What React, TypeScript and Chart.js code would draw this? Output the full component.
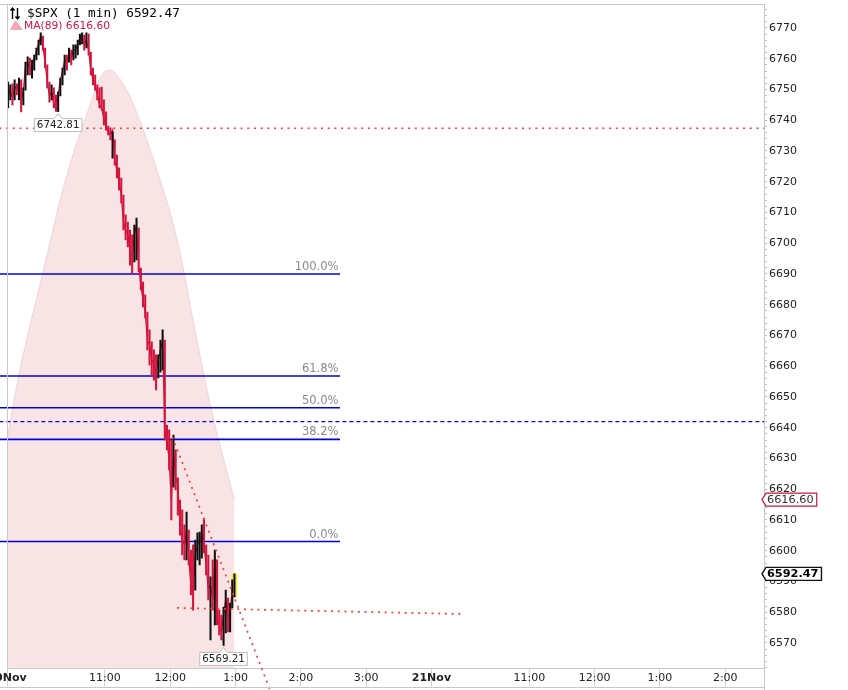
import React, { useEffect, useRef } from 'react';
import { Chart, registerables } from 'chart.js';

Chart.register(...registerables);

// ---------- data ----------
const symbolName = '$SPX';
const intervalLabel = '1 min';
const maPeriod = 89;

// 2-minute groups of the 1-minute bars, 20 Nov from 9:30
const barHigh = [
  6752.4, 6751.5, 6751.8, 6753.1, 6751.8, 6753.7, 6753.1, 6750.5, 6758.9, 6760.6,
  6760.2, 6759.6, 6761.2, 6763.5, 6766.1, 6768.4, 6767.4, 6763.5, 6758.0, 6752.4,
  6751.5, 6750.5, 6748.2, 6749.2, 6753.7, 6757.0, 6761.2, 6761.2, 6763.5, 6762.8,
  6764.5, 6764.5, 6766.1, 6768.0, 6768.4, 6767.7, 6768.4, 6768.0, 6762.2, 6757.0,
  6754.7, 6751.5, 6750.5, 6750.8, 6746.6, 6742.7, 6738.1, 6737.5, 6736.2, 6733.6,
  6728.7, 6724.5, 6721.2, 6715.7, 6709.2, 6706.9, 6704.3, 6702.7, 6705.9, 6708.2,
  6704.9, 6691.9, 6687.4, 6683.2, 6677.6, 6671.8, 6667.9, 6665.3, 6663.7, 6663.7,
  6668.5, 6671.8, 6668.5, 6640.9, 6639.3, 6636.0, 6637.6, 6632.8, 6623.7, 6616.5,
  6613.3, 6608.4, 6612.6, 6606.7, 6600.2, 6601.9, 6603.5, 6605.8, 6606.1, 6608.4,
  6610.6, 6601.9, 6598.6, 6591.5, 6597.0, 6600.2, 6597.0, 6580.7, 6579.1, 6581.7,
  6587.2, 6584.6, 6583.0, 6590.5, 6592.47,
];
const barLow = [
  6744.0, 6746.6, 6745.0, 6746.6, 6748.2, 6746.6, 6742.7, 6745.0, 6749.8, 6754.7,
  6754.7, 6753.7, 6756.3, 6759.6, 6761.2, 6764.5, 6762.8, 6757.0, 6750.5, 6745.9,
  6746.6, 6744.0, 6742.9, 6742.81, 6747.9, 6751.5, 6754.7, 6756.3, 6758.9, 6758.0,
  6759.6, 6760.2, 6761.2, 6764.5, 6764.8, 6762.8, 6763.5, 6761.2, 6754.7, 6751.5,
  6749.8, 6746.6, 6744.0, 6743.3, 6738.5, 6736.8, 6735.2, 6733.6, 6727.7, 6725.4,
  6721.2, 6717.3, 6713.1, 6704.3, 6701.1, 6698.8, 6692.9, 6690.3, 6693.9, 6694.6,
  6690.7, 6684.8, 6679.3, 6675.7, 6665.3, 6660.4, 6657.2, 6655.5, 6652.3, 6656.2,
  6658.1, 6658.8, 6636.0, 6632.8, 6626.3, 6610.0, 6620.7, 6619.8, 6611.6, 6605.1,
  6598.6, 6597.0, 6597.0, 6595.4, 6585.6, 6580.7, 6587.2, 6597.0, 6595.4, 6597.6,
  6599.3, 6592.1, 6584.0, 6571.0, 6580.7, 6575.9, 6575.9, 6572.6, 6571.0, 6569.21,
  6573.3, 6573.6, 6573.6, 6581.4, 6585.0,
];
const barClose = [
  6748.2, 6749.8, 6747.2, 6751.1, 6749.8, 6752.4, 6746.6, 6749.2, 6758.0, 6758.9,
  6756.3, 6758.0, 6760.2, 6762.2, 6764.8, 6767.4, 6764.1, 6758.9, 6752.4, 6747.9,
  6749.2, 6745.3, 6744.0, 6747.9, 6753.1, 6755.7, 6759.6, 6758.9, 6762.2, 6760.2,
  6762.8, 6762.8, 6764.8, 6766.7, 6767.4, 6764.5, 6766.1, 6762.8, 6756.3, 6753.1,
  6751.5, 6748.2, 6745.3, 6744.0, 6740.7, 6737.5, 6736.2, 6735.2, 6736.8, 6727.1,
  6723.8, 6719.9, 6715.7, 6706.9, 6704.3, 6702.7, 6697.8, 6696.2, 6702.7, 6705.9,
  6692.9, 6686.4, 6681.5, 6677.6, 6668.5, 6666.9, 6662.0, 6660.4, 6658.1, 6662.0,
  6665.3, 6668.5, 6639.3, 6636.0, 6629.5, 6616.5, 6632.8, 6623.7, 6621.4, 6608.4,
  6603.5, 6601.9, 6606.7, 6597.6, 6588.9, 6587.2, 6598.6, 6601.9, 6603.5, 6605.1,
  6601.9, 6595.4, 6587.2, 6588.9, 6584.0, 6597.0, 6579.1, 6575.9, 6573.6, 6579.1,
  6584.0, 6577.5, 6580.1, 6587.2, 6592.47,
];
// bar time = middle of each 2-minute group, in minutes after the open
const barMinute = barClose.map((_, i) => 2 * i + 1);

// MA(89) read at these minutes
const maMinute = [0, 10, 20, 30, 40, 50, 60, 70, 80, 88, 95, 100, 110, 120, 130, 140, 150, 160, 170, 180, 190, 200, 209];
const maValue = [
  6636.0, 6655.5, 6671.5, 6686.0, 6701.0, 6715.5, 6728.0, 6738.5, 6748.5, 6755.2,
  6756.3, 6755.0, 6749.8, 6741.7, 6732.0, 6721.2, 6709.8, 6695.2, 6676.7, 6658.8,
  6642.5, 6628.5, 6616.6,
];

// Fibonacci retracement
const fibLevels = [6690.0, 6656.8, 6646.5, 6636.2, 6603.0];
const fibLabels = ['100.0%', '61.8%', '50.0%', '38.2%', '0.0%'];
const fibStartMinute = -7;
const fibEndMinute = 306;

// horizontal reference lines
const redLevel = 6737.4;
const blueLevel = 6642.0;

// dotted trend lines
const trendAMinutes = [152, 241.7];
const trendAValues = [6637.0, 6554.7];
const trendBMinutes = [156.2, 420.8];
const trendBValues = [6581.4, 6579.4];

// lows that carry a price callout (bar index)
const calloutBars = [23, 99];

// axes
const xTickMinutes = [0, 90, 150, 210, 270, 330, 390, 480, 540, 600, 660];
const xTickLabels = ['20Nov', '11:00', '12:00', '1:00', '2:00', '3:00', '21Nov', '11:00', '12:00', '1:00', '2:00'];
const xMin = 0;
const xMax = 695.6;
const yMin = 6561.7;
const yMax = 6777.8;
const yStep = 2;
const yLabelStep = 10;
const yExtraTick = 6780;

// ---------- styles ----------
const CRIMSON = '#d4143c';
const BLACK = '#111111';
const FRAME = '#c8c8c8';
const FONT = '"DejaVu Sans", sans-serif';

function fmt(v: number) {
  return v.toFixed(2);
}

const overlayPlugin = {
  id: 'overlay',
  afterDraw(chart: any) {
    const ctx = chart.ctx as CanvasRenderingContext2D;
    const ca = chart.chartArea;
    const xs = chart.scales.x;
    const ys = chart.scales.y;
    ctx.save();

    // frame
    ctx.strokeStyle = FRAME;
    ctx.lineWidth = 1;
    ctx.beginPath();
    ctx.moveTo(0, Math.round(ca.top) + 0.5);
    ctx.lineTo(ca.right, Math.round(ca.top) + 0.5);
    ctx.moveTo(Math.round(ca.left) + 0.5, ca.top);
    ctx.lineTo(Math.round(ca.left) + 0.5, ca.bottom);
    const bandBottom = Math.round(ca.bottom + 18.5) + 0.5;
    ctx.moveTo(0, bandBottom);
    ctx.lineTo(ca.right, bandBottom);
    ctx.moveTo(Math.round(ca.right) + 0.5, ca.bottom);
    ctx.lineTo(Math.round(ca.right) + 0.5, chart.height);
    ctx.stroke();

    // fib labels
    ctx.font = '11.5px ' + FONT;
    ctx.fillStyle = '#8a8a8a';
    ctx.textAlign = 'right';
    ctx.textBaseline = 'alphabetic';
    const fx = xs.getPixelForValue(fibEndMinute) - 1.5;
    fibLevels.forEach((lv, i) => {
      ctx.fillText(fibLabels[i], fx, ys.getPixelForValue(lv) - 4);
    });

    // low callouts
    calloutBars.forEach((bi) => {
      const cx = xs.getPixelForValue(barMinute[bi]);
      const yl = ys.getPixelForValue(barLow[bi]);
      const text = fmt(barLow[bi]);
      ctx.font = '10.3px ' + FONT;
      const w = ctx.measureText(text).width + 5;
      const h = 13;
      const top = yl + 7;
      const left = cx - w / 2;
      ctx.beginPath();
      ctx.moveTo(left, top);
      ctx.lineTo(cx - 4, top);
      ctx.lineTo(cx, top - 5);
      ctx.lineTo(cx + 4, top);
      ctx.lineTo(left + w, top);
      ctx.lineTo(left + w, top + h);
      ctx.lineTo(left, top + h);
      ctx.closePath();
      ctx.fillStyle = '#ffffff';
      ctx.fill();
      ctx.strokeStyle = '#bcbcbc';
      ctx.lineWidth = 1;
      ctx.stroke();
      ctx.fillStyle = '#222';
      ctx.textAlign = 'center';
      ctx.textBaseline = 'middle';
      ctx.fillText(text, cx, top + h / 2 + 0.5);
    });

    // right axis value boxes
    const valueBox = (value: number, bold: boolean, stroke: string, color: string) => {
      const yc = ys.getPixelForValue(value);
      const xl = ca.right - 2;
      ctx.font = (bold ? 'bold ' : '') + '11.3px ' + FONT;
      const text = fmt(value);
      const tw = ctx.measureText(text).width;
      const w = tw + 8;
      const h = 13;
      ctx.beginPath();
      ctx.moveTo(xl, yc);
      ctx.lineTo(xl + 4, yc - h / 2);
      ctx.lineTo(xl + w, yc - h / 2);
      ctx.lineTo(xl + w, yc + h / 2);
      ctx.lineTo(xl + 4, yc + h / 2);
      ctx.closePath();
      ctx.fillStyle = '#ffffff';
      ctx.fill();
      ctx.strokeStyle = stroke;
      ctx.lineWidth = bold ? 1.4 : 1.2;
      ctx.stroke();
      ctx.fillStyle = color;
      ctx.textAlign = 'left';
      ctx.textBaseline = 'middle';
      ctx.fillText(text, xl + 5, yc + 0.5);
    };
    valueBox(maValue[maValue.length - 1], false, CRIMSON, '#333');
    valueBox(barClose[barClose.length - 1], true, '#111', '#000');

    // legend
    const L = ca.left;
    const T = ca.top;
    ctx.strokeStyle = '#000';
    ctx.fillStyle = '#000';
    ctx.lineWidth = 1.4;
    ctx.beginPath();
    ctx.moveTo(L + 5.5, T + 15);
    ctx.lineTo(L + 5.5, T + 4);
    ctx.moveTo(L + 3.5, T + 6.5);
    ctx.lineTo(L + 5.5, T + 4);
    ctx.lineTo(L + 7.5, T + 6.5);
    ctx.moveTo(L + 10.5, T + 4);
    ctx.lineTo(L + 10.5, T + 15);
    ctx.moveTo(L + 8.5, T + 12.5);
    ctx.lineTo(L + 10.5, T + 15);
    ctx.lineTo(L + 12.5, T + 12.5);
    ctx.stroke();
    ctx.font = '12.7px "DejaVu Sans Mono", monospace';
    ctx.textAlign = 'left';
    ctx.textBaseline = 'middle';
    ctx.fillText(`${symbolName} (${intervalLabel}) ${fmt(barClose[barClose.length - 1])}`, L + 20, T + 9.5);

    ctx.fillStyle = '#f1aab2';
    ctx.beginPath();
    ctx.moveTo(L + 3, T + 26);
    ctx.lineTo(L + 7, T + 18);
    ctx.lineTo(L + 9, T + 16.5);
    ctx.lineTo(L + 16, T + 26);
    ctx.closePath();
    ctx.fill();
    ctx.fillStyle = CRIMSON;
    ctx.font = '10.7px ' + FONT;
    ctx.fillText(`MA(${maPeriod}) ${fmt(maValue[maValue.length - 1])}`, L + 17, T + 22);

    ctx.restore();
  },
};

function line(points: { x: number; y: number }[], color: string, width: number, dash: number[], order: number) {
  return {
    type: 'line' as const,
    data: points,
    borderColor: color,
    borderWidth: width,
    borderDash: dash,
    pointRadius: 0,
    fill: false,
    clip: false as any,
    order,
  };
}

export default function App() {
  const ref = useRef<HTMLCanvasElement>(null);

  useEffect(() => {
    const canvas = ref.current;
    if (!canvas) return;

    const priceBars = barClose.map((_, i) => ({ x: barMinute[i], y: [barLow[i], barHigh[i]] }));
    const barColors = barClose.map((c, i) => (i > 0 && c < barClose[i - 1] ? CRIMSON : BLACK));
    const last = barClose.length - 1;

    const datasets: any[] = [
      {
        type: 'line',
        data: maMinute.map((m, i) => ({ x: m, y: maValue[i] })),
        borderColor: '#f2d2d5',
        borderWidth: 1,
        backgroundColor: '#f8e4e5',
        fill: 'start',
        pointRadius: 0,
        tension: 0.4,
        order: 10,
      },
      line([{ x: fibStartMinute, y: redLevel }, { x: xMax, y: redLevel }], '#ff3c3c', 1.7, [2, 4.7], 8),
      line([{ x: fibStartMinute, y: blueLevel }, { x: xMax, y: blueLevel }], '#0000ff', 1.3, [4, 3], 8),
      ...fibLevels.map((lv) => line([{ x: fibStartMinute, y: lv }, { x: fibEndMinute, y: lv }], '#0000e6', 1.6, [], 7)),
      {
        type: 'line',
        data: barMinute.map((m, i) => ({ x: m, y: barClose[i] })),
        borderColor: CRIMSON,
        borderWidth: 1.3,
        pointRadius: 0,
        fill: false,
        order: 4,
      },
      {
        type: 'bar',
        data: [{ x: barMinute[last], y: [barLow[last], barHigh[last]] }],
        backgroundColor: '#f4f040',
        borderWidth: 0,
        barThickness: 5,
        grouped: false,
        order: 3,
      },
      {
        type: 'bar',
        data: priceBars,
        backgroundColor: barColors,
        borderWidth: 0,
        barThickness: 1.4,
        grouped: false,
        order: 2,
      },
      line(trendAMinutes.map((m, i) => ({ x: m, y: trendAValues[i] })), '#ff3c3c', 1.7, [2, 4.7], 1),
      line(trendBMinutes.map((m, i) => ({ x: m, y: trendBValues[i] })), '#ff3c3c', 1.7, [2, 4.7], 1),
    ];

    const chart = new Chart(canvas, {
      type: 'line',
      data: { datasets },
      options: {
        responsive: false,
        animation: false,
        events: [],
        layout: { padding: { left: 30, top: 10, right: 0, bottom: 0 } },
        plugins: { legend: { display: false }, tooltip: { enabled: false } },
        scales: {
          x: {
            type: 'linear',
            min: xMin,
            max: xMax,
            offset: false,
            afterBuildTicks: (s: any) => {
              s.ticks = xTickMinutes.map((v) => ({ value: v }));
            },
            afterFit: (s: any) => {
              s.height = 21.5;
            },
            ticks: {
              autoSkip: false,
              maxRotation: 0,
              minRotation: 0,
              padding: -15,
              color: '#222',
              font: (c: any) => ({
                family: FONT,
                size: 11,
                weight: (xTickLabels[c.index] || '').indexOf('Nov') >= 0 ? 'bold' : 'normal',
              }),
              callback: (_v: any, i: number) => xTickLabels[i],
            },
            grid: { drawOnChartArea: false, tickLength: 18, color: '#d2d2d2', offset: false },
            border: { color: FRAME },
          },
          y: {
            type: 'linear',
            position: 'right',
            min: yMin,
            max: yMax,
            afterBuildTicks: (s: any) => {
              s.ticks.push({ value: yExtraTick });
            },
            afterFit: (s: any) => {
              s.width = 84;
            },
            ticks: {
              stepSize: yStep,
              autoSkip: false,
              includeBounds: false,
              padding: 2,
              color: '#222',
              font: { family: FONT, size: 11 },
              callback: (v: any) => {
                const n = Math.round(Number(v));
                return Math.abs(Number(v) - n) < 1e-6 && n % yLabelStep === 0 ? String(n) : '';
              },
            },
            grid: { drawOnChartArea: false, tickLength: 3, color: '#bdbdbd' },
            border: { color: FRAME },
          },
        },
      } as any,
      plugins: [overlayPlugin],
    });

    return () => chart.destroy();
  }, []);

  return (
    <div style={{ position: 'fixed', left: 0, top: 0, width: 848, height: 690, overflow: 'hidden', background: '#fff' }}>
      <div style={{ position: 'absolute', left: -23, top: -6, width: 871, height: 696 }}>
        <canvas ref={ref} width={871} height={696} style={{ width: 871, height: 696, display: 'block' }} />
      </div>
    </div>
  );
}
